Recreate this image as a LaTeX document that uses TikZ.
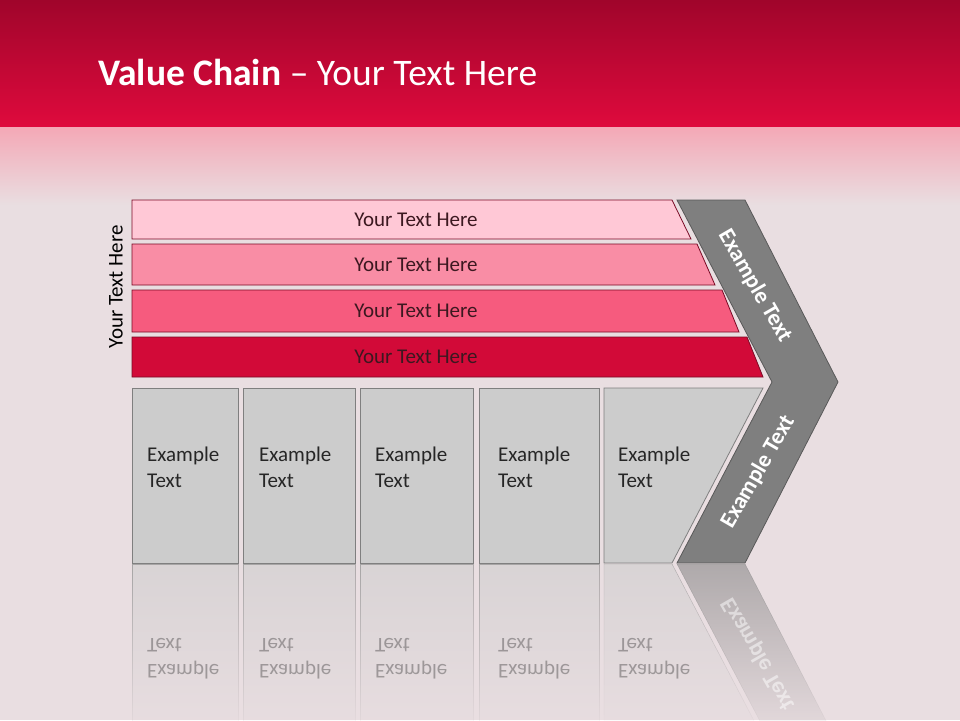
\documentclass[tikz,border=0pt]{standalone}
\usepackage{fontspec}
\setmainfont{Carlito}
\usetikzlibrary{fadings}
\definecolor{hdrdark}{HTML}{A0052B}
\definecolor{hdrred}{HTML}{DF0A3D}
\definecolor{hdrpink}{HTML}{F4A8B6}
\definecolor{bgpaper}{HTML}{E9DEE1}
\definecolor{rowA}{HTML}{FFC8D6}
\definecolor{rowB}{HTML}{F98DA5}
\definecolor{rowC}{HTML}{F65B7E}
\definecolor{rowD}{HTML}{D20A38}
\definecolor{rowline}{HTML}{7A0A25}
\definecolor{rowink}{HTML}{3C1820}
\definecolor{cellgray}{HTML}{CCCCCC}
\definecolor{cellline}{HTML}{7F7F7F}
\definecolor{chevgray}{HTML}{7F7F7F}
\definecolor{chevline}{HTML}{595959}
\tikzfading[name=reflfade, top color=transparent!45, bottom color=transparent!100]

\begin{document}
\begin{tikzpicture}[x=1pt,y=-1pt,
  rowbar/.style={draw=rowline,line width=0.8pt},
  rowtext/.style={font=\fontsize{21}{24}\selectfont,text=rowink},
  cell/.style={draw=cellline,fill=cellgray,line width=0.8pt},
  celltext/.style={font=\fontsize{21}{26}\selectfont,align=left,anchor=west,inner sep=0pt,text=black!85},
  chev/.style={draw=chevline,fill=chevgray,line width=0.8pt},
  chevtext/.style={font=\bfseries\fontsize{23}{26}\selectfont,text=white},
  refl/.style={fill=cellgray,draw=cellline,path fading=reflfade},
  refltext/.style={text=black,text opacity=0.3}
]
\useasboundingbox (0,0) rectangle (960,720);
% background and header band
\fill[bgpaper] (0,0) rectangle (960,720);
\shade[top color=hdrdark,bottom color=hdrred] (0,0) rectangle (960,127);
\shade[top color=hdrpink,bottom color=bgpaper] (0,127) rectangle (960,205);
\node[anchor=base west,inner sep=0pt,text=white,font=\fontsize{37.5}{40}\selectfont] (title) at (98,85) {\textbf{Value Chain} – Your Text Here};

% side label
\node[rotate=90,font=\fontsize{21}{24}\selectfont] (side) at (116,287) {Your Text Here};

% stacked rows
\foreach \t/\b/\rt/\rb/\col/\n in {200/239/672/691/rowA/1,244/285/697/715/rowB/2,290/332/722/739/rowC/3,337/377/747/763/rowD/4}{
  \draw[rowbar,fill=\col] (132,\t) -- (\rt,\t) -- (\rb,\b) -- (132,\b) -- cycle;
  \node[rowtext] (row\n) at (416,{(\t+\b)/2}) {Your Text Here};
}

% activity cells
\foreach \l/\r/\tx/\n in {132/238/147/1,243/355/259/2,360/473/375/3,479/599/498/4}{
  \draw[cell] (\l,388) rectangle (\r,563);
  \node[celltext] (cell\n) at (\tx,467) {Example\\Text};
}
\draw[cell] (604,388) -- (763,388) -- (672,563) -- (604,563) -- cycle;
\node[celltext] (cell5) at (618,467) {Example\\Text};

% margin chevron
\draw[chev] (677,200) -- (745,200) -- (838,382) -- (745,563) -- (677,563) -- (772,382) -- cycle;
\node[chevtext,rotate=-60] (chevtop) at (755,286) {Example Text};
\node[chevtext,rotate=60] (chevbot) at (758,472) {Example Text};

% reflection
\foreach \l/\r/\tx/\n in {132/238/147/1,243/355/259/2,360/473/375/3,479/599/498/4}{
  \draw[refl] (\l,564) rectangle (\r,738);
  \node[celltext,refltext,yscale=-1] (mirror\n) at (\tx,659) {Example\\Text};
}
\draw[refl] (604,564) -- (672,564) -- (763,738) -- (604,738) -- cycle;
\node[celltext,refltext,yscale=-1] (mirror5) at (618,659) {Example\\Text};
\draw[refl,fill=chevgray] (677,564) -- (745,564) -- (838,744) -- (772,744) -- cycle;
\node[chevtext,text=white,text opacity=0.5,rotate=-60,yscale=-1] (mirrorchev) at (758,654) {Example Text};
\end{tikzpicture}
\end{document}
